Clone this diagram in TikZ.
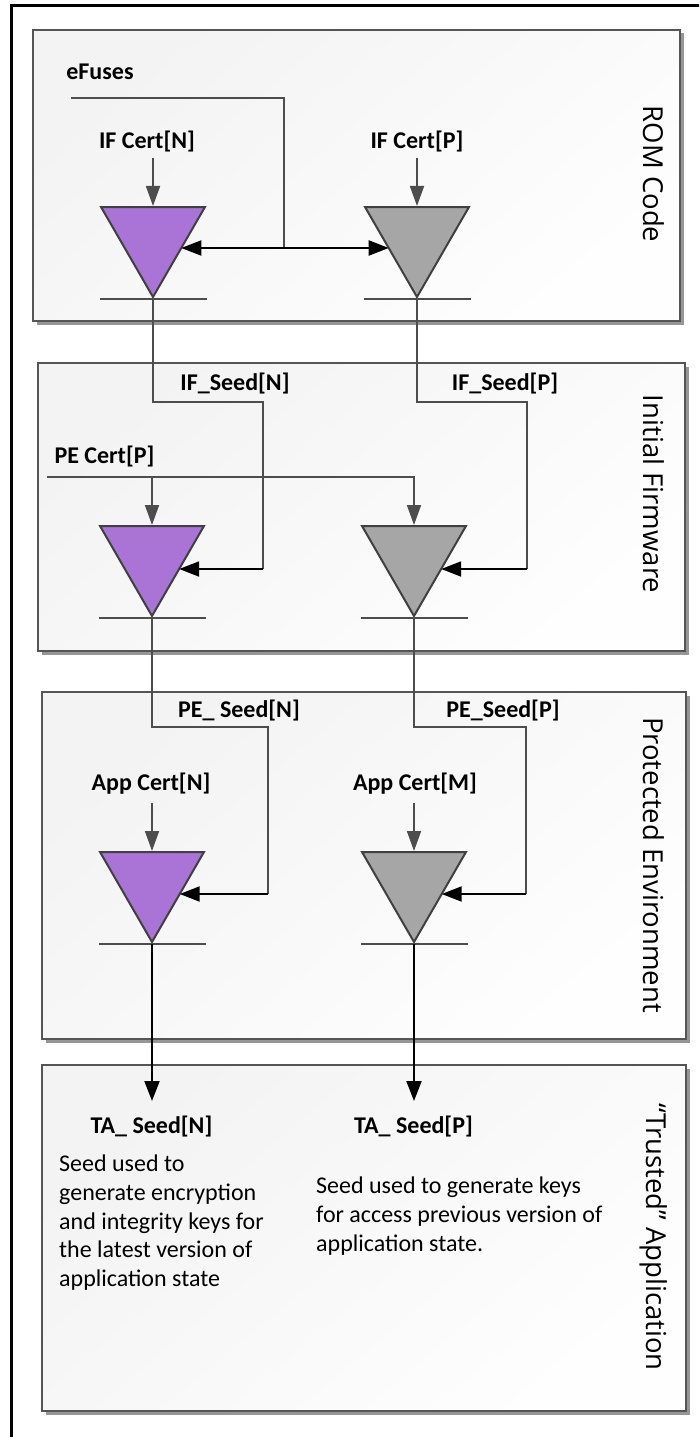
\documentclass[tikz,border=0pt]{standalone}
\usepackage{fontspec}
\setmainfont{Carlito}
\newfontfamily\stagefont{Open Sans}
\usetikzlibrary{shapes.geometric,arrows.meta,shadows}

\definecolor{kdfpurple}{RGB}{169,116,213}
\definecolor{kdfgray}{RGB}{166,166,166}
\definecolor{wiregray}{RGB}{77,77,77}
\definecolor{edgegray}{RGB}{64,64,64}
\definecolor{boxline}{RGB}{85,85,85}
\definecolor{boxshadow}{RGB}{150,150,150}
\definecolor{boxtop}{RGB}{243,243,243}
\definecolor{boxbottom}{RGB}{254,254,254}

\tikzset{
  stagebox/.style={draw=boxline, line width=2pt, inner sep=0pt, anchor=north west,
    top color=boxtop, bottom color=boxbottom, shading angle=40,
    drop shadow={shadow xshift=3.5pt, shadow yshift=-3.5pt, fill=boxshadow, opacity=1}},
  stagename/.style={font=\stagefont\fontsize{27.5}{33}\selectfont, rotate=-90, inner sep=0pt},
  kdf/.style={regular polygon, regular polygon sides=3, shape border rotate=180,
    minimum size=120pt, inner sep=0pt, draw=edgegray, line width=2pt},
  kdfnew/.style={kdf, fill=kdfpurple},
  kdfold/.style={kdf, fill=kdfgray},
  tag/.style={font=\fontsize{24}{28.7}\selectfont\bfseries, inner sep=0pt},
  note/.style={font=\fontsize{24}{28.7}\selectfont, align=left, inner sep=0pt, anchor=north west},
  wire/.style={draw=wiregray, line width=1.8pt},
  certarrow/.style={wire, -{Triangle[length=20pt,width=14pt]}},
  seedarrow/.style={draw=black, line width=2pt, -{Triangle[length=20pt,width=15pt]}},
  seedboth/.style={draw=black, line width=2pt,
    {Triangle[length=20pt,width=15pt]}-{Triangle[length=20pt,width=15pt]}},
  outbar/.style={draw=wiregray, line width=1.8pt},
  frame/.style={draw=black, line width=3.5pt},
}

\begin{document}
\begin{tikzpicture}[x=1pt, y=-1pt]
  \useasboundingbox (0,0) rectangle (699,1437);
  \clip (0,0) rectangle (699,1437);

  % outer frame
  \draw[frame] (11.3,1460) -- (11.3,5.3) -- (720,5.3);

  % stage boxes
  \node[stagebox, minimum width=647pt, minimum height=291pt] (rom) at (32,29) {};
  \node[stagebox, minimum width=647pt, minimum height=288pt] (ifw) at (37,362) {};
  \node[stagebox, minimum width=644pt, minimum height=347pt] (pe)  at (41,691) {};
  \node[stagebox, minimum width=644pt, minimum height=346pt] (ta)  at (41,1064) {};

  % stage names
  \node[stagename] (romname) at (654,174) {ROM Code};
  \node[stagename] (ifwname) at (654,494) {Initial Firmware};
  \node[stagename] (pename)  at (654,865) {Protected Environment};
  \node[stagename] (taname)  at (654,1237) {“Trusted” Application};

  % key derivation functions
  \node[kdfnew] (romn) at (153,237) {};
  \node[kdfold] (romp) at (417,237) {};
  \node[kdfnew] (ifn)  at (152,556) {};
  \node[kdfold] (ifp)  at (414,556) {};
  \node[kdfnew] (pen)  at (152,882) {};
  \node[kdfold] (pep)  at (414,882) {};

  \foreach \k in {romn,romp,ifn,ifp,pen,pep}
    \draw[outbar] ([xshift=-53pt]\k.south) -- ([xshift=54pt]\k.south);

  % labels
  \node[tag] (efuses)  at (100,72)  {eFuses};
  \node[tag] (ifcertn) at (147,142) {IF Cert[N]};
  \node[tag] (ifcertp) at (417,142) {IF Cert[P]};
  \node[tag] (ifseedn) at (235,384) {IF\_Seed[N]};
  \node[tag] (ifseedp) at (505,384) {IF\_Seed[P]};
  \node[tag] (pecert)  at (104.5,457) {PE Cert[P]};
  \node[tag] (peseedn) at (239,711) {PE\_ Seed[N]};
  \node[tag] (peseedp) at (503,711) {PE\_Seed[P]};
  \node[tag] (appn)    at (151,784) {App Cert[N]};
  \node[tag] (appm)    at (415,784) {App Cert[M]};
  \node[tag] (tan)     at (151.5,1126) {TA\_ Seed[N]};
  \node[tag] (tap)     at (413.5,1126) {TA\_ Seed[P]};

  \node[note] (tannote) at (59,1155) {Seed used to\\generate encryption\\and integrity keys for\\the latest version of\\application state};
  \node[note] (tapnote) at (316,1177) {Seed used to generate keys\\for access previous version of\\application state.};

  % ROM code: eFuses feed both derivations
  \coordinate (efin) at (71,98);
  \coordinate (eftap) at (284,248);
  \draw[wire] (efin) -| (eftap);
  \draw[seedboth] ([shift={(28.3,11)}]romn.center) -- ([shift={(-28.3,11)}]romp.center);

  % certificates into derivations
  \draw[certarrow] (romn.north |- 0,158) -- (romn.north);
  \draw[certarrow] (romp.north |- 0,158) -- (romp.north);
  \coordinate (pein) at (47,477);
  \draw[certarrow] (pein) -| (ifp.north);
  \draw[certarrow] (pein -| ifn.north) -- (ifn.north);
  \draw[certarrow] (pen.north |- 0,803) -- (pen.north);
  \draw[certarrow] (pep.north |- 0,803) -- (pep.north);

  % seeds passed to the next stage
  \coordinate (ifnbend) at (263,569);
  \coordinate (ifpbend) at (527,569);
  \coordinate (penbend) at (268,894);
  \coordinate (pepbend) at (526,894);
  \draw[wire] (romn.south) |- (ifnbend |- 0,402) -- (ifnbend);
  \draw[wire] (romp.south) |- (ifpbend |- 0,402) -- (ifpbend);
  \draw[seedarrow] (ifnbend) -- ([shift={(27.2,13)}]ifn.center);
  \draw[seedarrow] (ifpbend) -- ([shift={(27.2,13)}]ifp.center);
  \draw[wire] (ifn.south) |- (penbend |- 0,727) -- (penbend);
  \draw[wire] (ifp.south) |- (pepbend |- 0,727) -- (pepbend);
  \draw[seedarrow] (penbend) -- ([shift={(27.7,12)}]pen.center);
  \draw[seedarrow] (pepbend) -- ([shift={(27.7,12)}]pep.center);

  % final seeds handed to the trusted application
  \draw[seedarrow] (pen.south) -- (pen.south |- 0,1101);
  \draw[seedarrow] (pep.south) -- (pep.south |- 0,1101);
\end{tikzpicture}
\end{document}
